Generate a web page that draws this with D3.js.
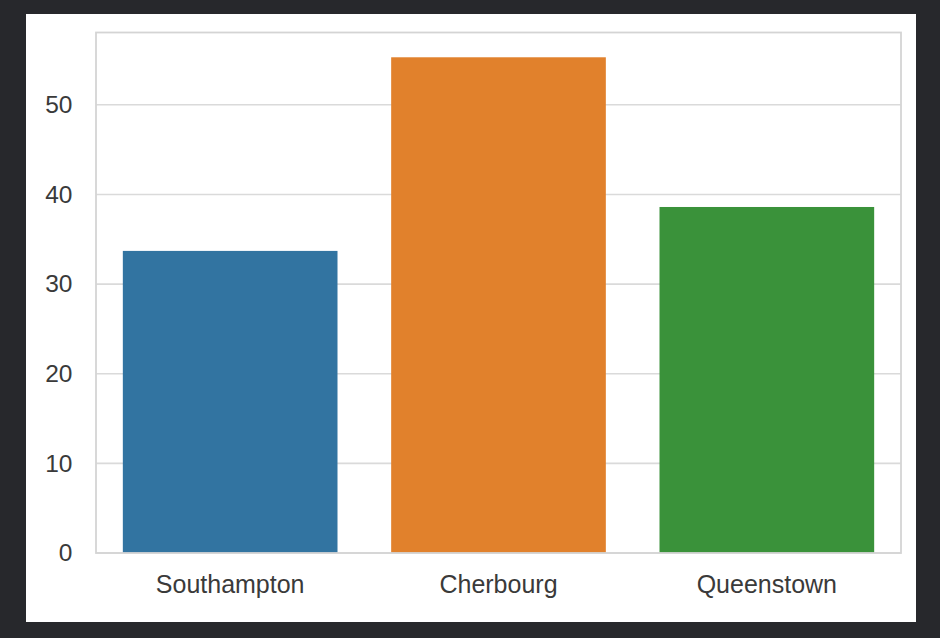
<!DOCTYPE html>
<html><head><meta charset="utf-8">
<script src="https://cdn.jsdelivr.net/npm/d3@7"></script>
<style>
html,body{margin:0;padding:0;background:#27282c;}
svg{display:block;}
</style></head>
<body>
<script>
const categories = ["Southampton", "Cherbourg", "Queenstown"];
const values = [33.7, 55.3, 38.6];
const colors = ["#3274a1", "#e1812c", "#3a923a"];
const yTicks = [0, 10, 20, 30, 40, 50];

const W = 940, H = 638;
const panel = {x: 26, y: 14, w: 890, h: 608};
const m = {left: 96, right: 901, top: 32.5, bottom: 553};

const svg = d3.select("body").append("svg").attr("width", W).attr("height", H);
svg.append("rect").attr("width", W).attr("height", H).attr("fill", "#27282c");
svg.append("rect").attr("x", panel.x).attr("y", panel.y).attr("width", panel.w).attr("height", panel.h).attr("fill", "#ffffff");

const x = d3.scaleBand().domain(categories).range([m.left, m.right]).paddingInner(0.2).paddingOuter(0.1);
const y = d3.scaleLinear().domain([0, d3.max(values) * 1.05]).range([m.bottom, m.top]);

const font = "'Liberation Sans', Arial, sans-serif";
const textColor = "#3a3a3a";

// grid
svg.append("g").selectAll("line").data(yTicks).join("line")
  .attr("x1", m.left).attr("x2", m.right)
  .attr("y1", d => y(d)).attr("y2", d => y(d))
  .attr("stroke", "#dadada").attr("stroke-width", 1.6);

// bars
svg.append("g").selectAll("rect").data(categories).join("rect")
  .attr("x", d => x(d)).attr("width", x.bandwidth())
  .attr("y", (d, i) => y(values[i])).attr("height", (d, i) => y(0) - y(values[i]))
  .attr("fill", (d, i) => colors[i]);

// frame
svg.append("rect").attr("x", m.left).attr("y", m.top)
  .attr("width", m.right - m.left).attr("height", m.bottom - m.top)
  .attr("fill", "none").attr("stroke", "#d4d4d4").attr("stroke-width", 1.8);

// y axis
const yAxis = d3.axisLeft(y).tickValues(yTicks).tickSize(0).tickPadding(23.5);
const gy = svg.append("g").attr("transform", `translate(${m.left},0)`).call(yAxis);
gy.select(".domain").remove();
gy.selectAll("text").attr("font-family", font).attr("font-size", 24.5).attr("fill", textColor);

// x axis
const xAxis = d3.axisBottom(x).tickSize(0).tickPadding(22.5);
const gx = svg.append("g").attr("transform", `translate(0,${m.bottom})`).call(xAxis);
gx.select(".domain").remove();
gx.selectAll("text").attr("font-family", font).attr("font-size", 25).attr("fill", textColor);
</script>
</body></html>
